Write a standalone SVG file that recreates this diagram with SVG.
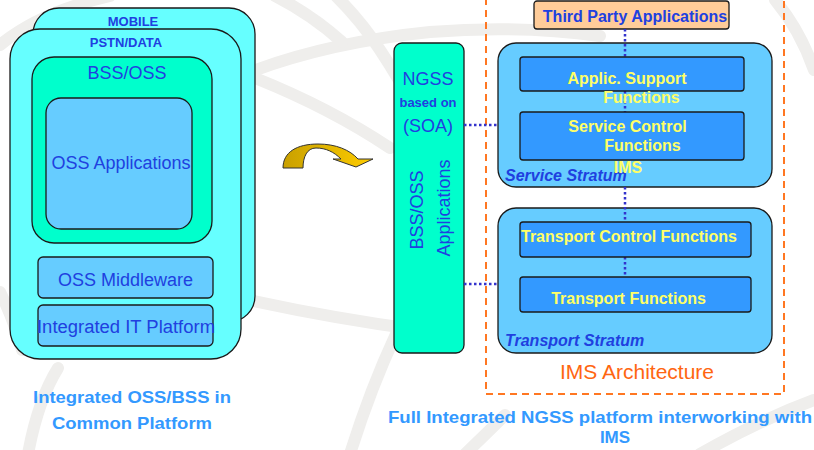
<svg xmlns="http://www.w3.org/2000/svg" width="814" height="450" viewBox="0 0 814 450">
  <defs>
    <style>
      text { font-family: "Liberation Sans", Arial, sans-serif; }
      .wm { fill: none; stroke: #efeeec; stroke-width: 12; stroke-linecap: round; }
      .box { stroke: #1a1a1a; stroke-width: 1.3; }
      .cyan { fill: #66ffff; }
      .green { fill: #00ffcc; }
      .light { fill: #66ccff; }
      .mid { fill: #3399ff; }
      .blue { fill: #2040e0; }
      .big { font-size: 18px; }
      .lbl { font-size: 13px; font-weight: bold; }
      .yel { fill: #ffff66; font-size: 16px; font-weight: bold; }
      .stratum { fill: #2040e0; font-size: 16px; font-weight: bold; font-style: italic; }
      .cap { fill: #3399ff; font-size: 17px; font-weight: bold; }
      .dot { fill: none; stroke: #3333cc; stroke-width: 2.5; stroke-dasharray: 2.5 2.5; }
    </style>
    <linearGradient id="arrowFill" x1="0" y1="0" x2="1" y2="0">
      <stop offset="0" stop-color="#c9a000"/>
      <stop offset="0.45" stop-color="#e0b400"/>
      <stop offset="1" stop-color="#ffcc00"/>
    </linearGradient>
  </defs>

  <rect width="814" height="450" fill="#ffffff"/>

  <!-- faint globe watermark -->
  <g id="watermark">
    <path class="wm" d="M0,45 Q40,12 110,-4"/>
    <path class="wm" d="M250,72 Q330,42 430,32 Q520,25 600,36"/>
    <path class="wm" d="M275,-4 Q312,15 342,42"/>
    <path class="wm" d="M336,-4 Q362,22 380,50 Q420,110 440,170"/>
    <path class="wm" d="M255,78 Q330,108 390,148"/>
    <path class="wm" d="M240,298 Q330,318 420,330"/>
    <path class="wm" d="M0,292 Q14,320 22,350"/>
    <path class="wm" d="M28,454 Q38,400 58,368"/>
    <path class="wm" d="M350,454 Q370,390 396,334"/>
    <path class="wm" d="M465,454 Q488,432 505,415"/>
    <path class="wm" d="M775,0 Q800,30 814,70"/>
    <path class="wm" d="M700,454 Q760,420 814,400"/>
  </g>

  <!-- left stack: integrated OSS/BSS -->
  <g id="mobile">
    <rect class="box cyan" x="33" y="8" width="222" height="314" rx="26"/>
    <text class="blue lbl" x="133" y="26" text-anchor="middle">MOBILE</text>
  </g>
  <g id="pstn-data">
    <rect class="box cyan" x="10" y="29" width="231" height="330" rx="30"/>
    <text class="blue lbl" x="126" y="47" text-anchor="middle">PSTN/DATA</text>
  </g>
  <g id="bss-oss">
    <rect class="box green" x="32" y="57" width="180" height="186" rx="22"/>
    <text class="blue big" x="127" y="79" text-anchor="middle">BSS/OSS</text>
  </g>
  <g id="oss-applications">
    <rect class="box light" x="46" y="98" width="146" height="131" rx="15"/>
    <text class="blue big" x="121" y="169" text-anchor="middle">OSS Applications</text>
  </g>
  <g id="oss-middleware">
    <rect class="box light" x="38" y="257" width="175" height="41" rx="5"/>
    <text class="blue big" x="125.5" y="286" text-anchor="middle">OSS Middleware</text>
  </g>
  <g id="it-platform">
    <rect class="box light" x="38" y="305" width="175" height="41" rx="5"/>
    <text class="blue big" x="126" y="333" text-anchor="middle" textLength="178" lengthAdjust="spacingAndGlyphs">Integrated IT Platform</text>
  </g>
  <g id="left-caption">
    <text class="cap" x="132" y="403" text-anchor="middle" textLength="198" lengthAdjust="spacingAndGlyphs">Integrated OSS/BSS in</text>
    <text class="cap" x="132" y="429" text-anchor="middle" textLength="160" lengthAdjust="spacingAndGlyphs">Common Platform</text>
  </g>

  <!-- transition arrow -->
  <g id="transition-arrow">
    <path d="M283,168 C283,152 297,144 318,144 C336,144 350,150 358,159 L373,159 L356,167 L333,159 L341,159 C334,152 326,148 316,148 C307,148 303,157 303,168 Z" fill="url(#arrowFill)" stroke="#333333" stroke-width="1"/>
  </g>

  <!-- NGSS column -->
  <g id="ngss">
    <rect class="box green" x="394" y="43" width="70" height="310" rx="8"/>
    <text class="blue big" x="428" y="85" text-anchor="middle">NGSS</text>
    <text class="blue lbl" x="428" y="107" text-anchor="middle">based on</text>
    <text class="blue big" x="428" y="132" text-anchor="middle">(SOA)</text>
    <text class="blue big" transform="translate(423,210) rotate(-90)" text-anchor="middle">BSS/OSS</text>
    <text class="blue big" transform="translate(450,208) rotate(-90)" text-anchor="middle">Applications</text>
  </g>

  <!-- IMS architecture frame -->
  <g id="ims-frame">
    <path d="M486,-2 V394 H784 V-2" fill="none" stroke="#ff7722" stroke-width="2" stroke-dasharray="7 5"/>
    <text x="637" y="379" text-anchor="middle" font-size="21" fill="#ff6611">IMS Architecture</text>
  </g>

  <g id="third-party">
    <rect class="box" x="534" y="1" width="195" height="28" rx="3" fill="#ffcc99"/>
    <text class="blue" x="635" y="22" text-anchor="middle" font-size="16" font-weight="bold">Third Party Applications</text>
  </g>

  <g id="service-stratum">
    <rect class="box light" x="498" y="43" width="274" height="144" rx="18"/>
    <text class="stratum" x="505" y="181">Service Stratum</text>
  </g>
  <g id="transport-stratum">
    <rect class="box light" x="498" y="208" width="274" height="145" rx="18"/>
    <text class="stratum" x="505" y="346">Transport Stratum</text>
  </g>

  <!-- connectors -->
  <g id="connectors">
    <path class="dot" d="M464,125 H498"/>
    <path class="dot" d="M464,284 H498"/>
    <path class="dot" d="M625,29 V57"/>
    <path class="dot" d="M625,91 V112"/>
    <path class="dot" d="M625,187 V222"/>
    <path class="dot" d="M625,257 V277"/>
  </g>

  <g id="applic-support">
    <rect class="box mid" x="520" y="57" width="224" height="34" rx="3"/>
    <text class="yel" x="627" y="84" text-anchor="middle">Applic. Support</text>
    <text class="yel" x="641.5" y="103" text-anchor="middle">Functions</text>
  </g>
  <g id="service-control">
    <rect class="box mid" x="520" y="112" width="224" height="48" rx="3"/>
    <text class="yel" x="627.5" y="132" text-anchor="middle">Service Control</text>
    <text class="yel" x="642.5" y="151" text-anchor="middle">Functions</text>
    <text class="yel" x="628" y="173" text-anchor="middle">IMS</text>
  </g>
  <g id="transport-control">
    <rect class="box mid" x="520" y="222" width="231" height="35" rx="3"/>
    <text class="yel" x="629" y="242" text-anchor="middle">Transport Control Functions</text>
  </g>
  <g id="transport-functions">
    <rect class="box mid" x="520" y="277" width="231" height="35" rx="3"/>
    <text class="yel" x="628.5" y="304" text-anchor="middle">Transport Functions</text>
  </g>

  <g id="right-caption">
    <text class="cap" x="600" y="423" text-anchor="middle" textLength="424" lengthAdjust="spacingAndGlyphs">Full Integrated NGSS platform interworking with</text>
    <text class="cap" x="615" y="443" text-anchor="middle">IMS</text>
  </g>
</svg>
